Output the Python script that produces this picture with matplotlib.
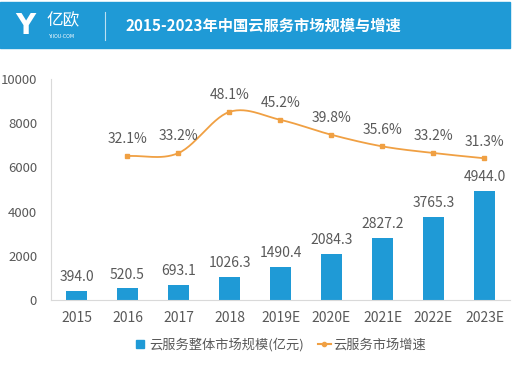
import numpy as np
import matplotlib.pyplot as plt
from matplotlib.patches import Rectangle
from matplotlib.lines import Line2D

plt.rcParams['font.family'] = ['Noto Sans CJK SC', 'DejaVu Sans']

years = ['2015', '2016', '2017', '2018', '2019E', '2020E', '2021E', '2022E', '2023E']
market_size = [394.0, 520.5, 693.1, 1026.3, 1490.4, 2084.3, 2827.2, 3765.3, 4944.0]
growth_years = ['2016', '2017', '2018', '2019E', '2020E', '2021E', '2022E', '2023E']
growth = [32.1, 33.2, 48.1, 45.2, 39.8, 35.6, 33.2, 31.3]

BLUE = '#1f9ad6'
ORANGE = '#f0a043'
GRAY = '#595959'


def smooth(x, y, n=30):
    # catmull-rom curve through the points, like excel's smoothed line
    x = np.asarray(x, float)
    y = np.asarray(y, float)
    px = np.concatenate([[2 * x[0] - x[1]], x, [2 * x[-1] - x[-2]]])
    py = np.concatenate([[2 * y[0] - y[1]], y, [2 * y[-1] - y[-2]]])
    xs, ys = [], []
    t = np.linspace(0, 1, n)
    for i in range(1, len(px) - 2):
        for p, out in ((px, xs), (py, ys)):
            p0, p1, p2, p3 = p[i - 1], p[i], p[i + 1], p[i + 2]
            out.extend(0.5 * (2 * p1 + (-p0 + p2) * t
                              + (2 * p0 - 5 * p1 + 4 * p2 - p3) * t ** 2
                              + (-p0 + 3 * p1 - 3 * p2 + p3) * t ** 3))
    return np.array(xs), np.array(ys)


fig = plt.figure(figsize=(5.32, 3.68), dpi=100)

# header band
fig.patches.append(Rectangle((0, 1 - 48 / 368), 510 / 532, 46 / 368,
                             transform=fig.transFigure, color=BLUE, zorder=0))
fig.text(0.028, 1 - 26 / 368, 'Y', color='white', fontsize=20, fontweight='bold',
         va='center', ha='left', family=['DejaVu Sans'])
fig.text(0.088, 1 - 21 / 368, '亿欧', color='white', fontsize=12, fontweight='light',
         va='center', ha='left')
fig.text(0.09, 1 - 37 / 368, 'YIIOU·COM', color='white', fontsize=3.5,
         va='center', ha='left', family=['DejaVu Sans'])
fig.add_artist(Line2D([105 / 532, 105 / 532], [1 - 40 / 368, 1 - 12 / 368],
                      transform=fig.transFigure, color='white', lw=0.8, alpha=0.7))
fig.text(125 / 532, 1 - 26 / 368, '2015-2023年中国云服务市场规模与增速', color='white',
         fontsize=11, fontweight='bold', va='center', ha='left')

ax = fig.add_axes([51 / 532, 1 - 300 / 368, 459 / 532, 221 / 368])
x = np.arange(len(years))
bars = ax.bar(x, market_size, width=0.4, color=BLUE, zorder=2)
for xi, v in zip(x, market_size):
    ax.annotate(f'{v:.1f}', (xi, v), xytext=(0, 5), textcoords='offset points',
                ha='center', va='bottom', fontsize=10, color=GRAY, fontweight='light')

ax.set_xlim(-0.5, len(years) - 0.5)
ax.set_ylim(0, 10000)
ax.set_yticks(range(0, 10001, 2000))
ax.set_xticks(x)
ax.set_xticklabels(years)
ax.tick_params(length=0, labelsize=10, colors=GRAY, pad=8)
ax.tick_params(axis='y', pad=10, labelsize=9.5)
for lbl in ax.get_xticklabels() + ax.get_yticklabels():
    lbl.set_fontweight('light')
for s in ['top', 'right']:
    ax.spines[s].set_visible(False)
ax.spines['left'].set_color('#d9d9d9')
ax.spines['bottom'].set_color('#d9d9d9')

ax2 = ax.twinx()
ax2.set_ylim(-20, 60)
gx = [years.index(g) for g in growth_years]
sx, sy = smooth(gx, growth)
ax2.plot(sx, sy, color=ORANGE, lw=1.3, zorder=3)
ax2.plot(gx, growth, 's', color=ORANGE, ms=3.5, zorder=4)
for xi, v in zip(gx, growth):
    ax2.annotate(f'{v:.1f}%', (xi, v), xytext=(0, 7), textcoords='offset points',
                 ha='center', va='bottom', fontsize=10, color=GRAY, fontweight='light')
ax2.axis('off')

handles = [Line2D([], [], marker='s', color=BLUE, ls='none', ms=6),
           Line2D([], [], marker='o', color=ORANGE, lw=1.5, ms=3)]
fig.legend(handles, ['云服务整体市场规模(亿元)', '云服务市场增速'], loc='center',
           bbox_to_anchor=(280 / 532, 1 - 345 / 368), ncol=2, frameon=False,
           fontsize=9.5, labelcolor=GRAY, handlelength=1.0, handletextpad=0.2,
           columnspacing=1.0, prop={'weight': 'light', 'size': 9.5})

fig.savefig('out.png', dpi=100)
